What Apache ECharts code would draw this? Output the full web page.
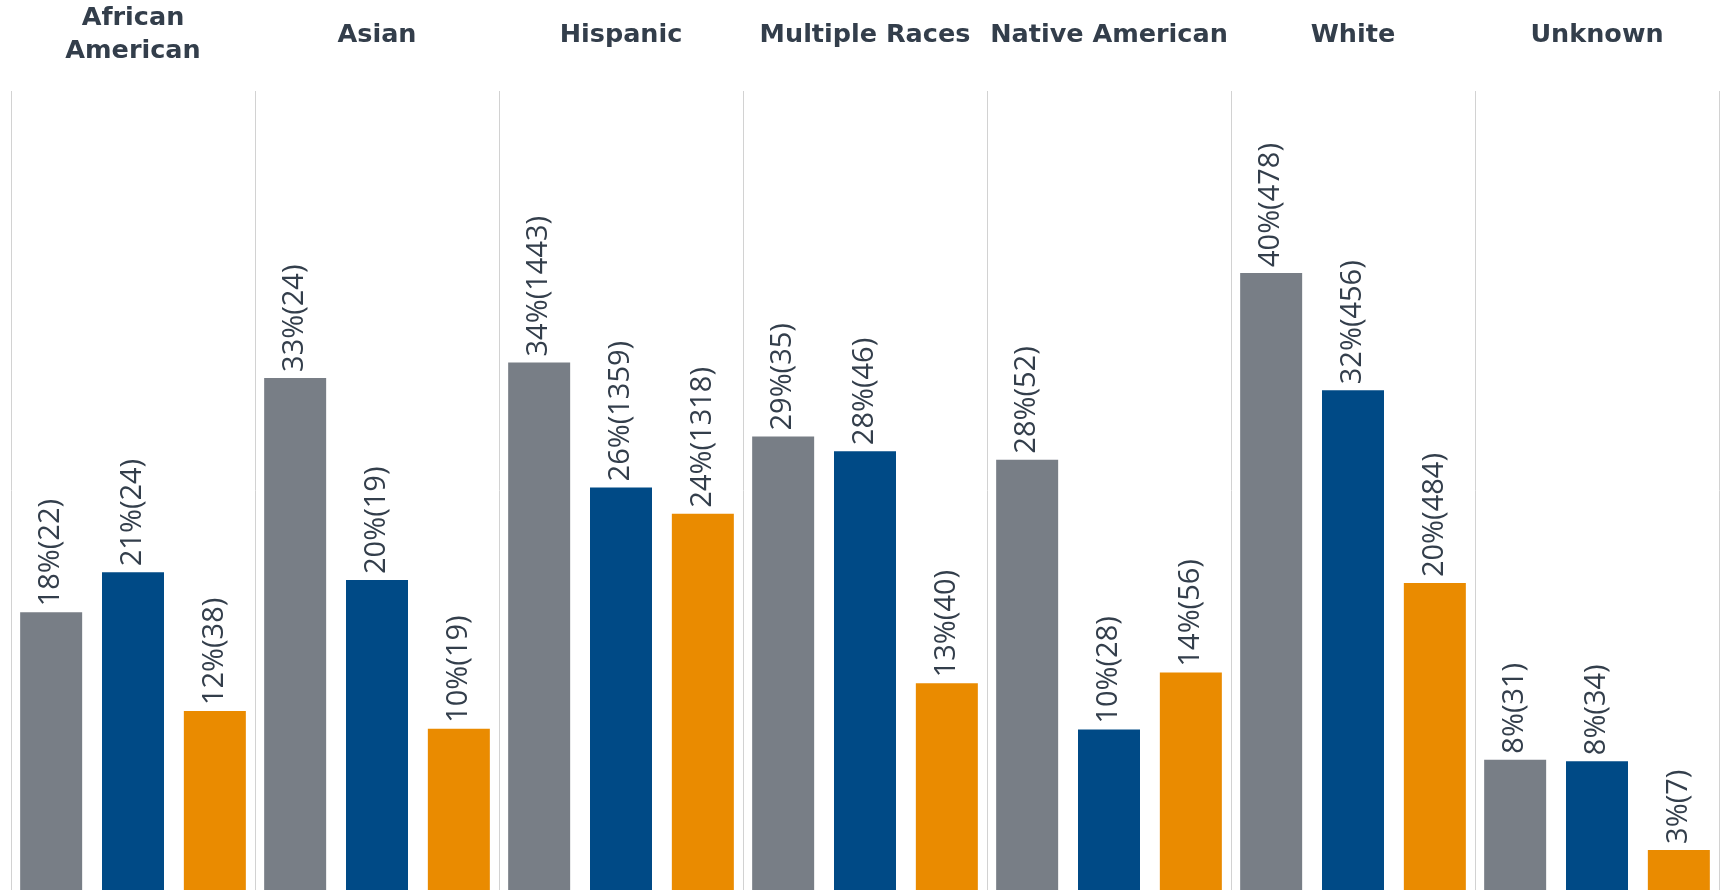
<!DOCTYPE html>
<html>
<head>
<meta charset="utf-8">
<script src="https://cdn.jsdelivr.net/npm/echarts@6/dist/echarts.min.js"></script>
<style>
    html, body {margin: 0; padding: 0; background: #fff;}
    #chart {width: 1727px; height: 893px;}
</style>
</head>
<body>
<div id="chart"></div>
<script>
// race groups (one panel each)
var races = ['African\nAmerican', 'Asian', 'Hispanic', 'Multiple Races', 'Native American', 'White', 'Unknown'];

// bar heights in percent
var grayPct = [18.0, 33.2, 34.2, 29.4, 27.9, 40.0, 8.45];
var bluePct = [20.6, 20.1, 26.1, 28.45, 10.4, 32.4, 8.35];
var orangePct = [11.6, 10.45, 24.4, 13.4, 14.1, 19.9, 2.6];

// counts shown in brackets
var grayCount = [22, 24, 1443, 35, 52, 478, 31];
var blueCount = [24, 19, 1359, 46, 28, 456, 34];
var orangeCount = [38, 19, 1318, 40, 56, 484, 7];

var textColor = '#333e4b';

/**build one bar series with its rotated label*/
function makeSeries(name, pct, counts, color) {
    return {
        name: name,
        type: 'bar',
        data: pct,
        barWidth: 62,
        barGap: '32%',
        itemStyle: {color: color},
        label: {
            show: true,
            position: 'top',
            rotate: 90,
            align: 'left',
            verticalAlign: 'middle',
            distance: 6,
            fontFamily: 'Open Sans',
            fontSize: 29,
            color: textColor,
            formatter: function (p) {
                return Math.round(p.value) + '%(' + counts[p.dataIndex] + ')';
            }
        }
    };
}

var chart = echarts.init(document.getElementById('chart'));
chart.setOption({
    animation: false,
    grid: {left: 11, right: 8, top: 91, bottom: 3},
    xAxis: {
        type: 'category',
        position: 'top',
        data: races,
        axisLine: {show: false},
        axisTick: {show: false},
        axisLabel: {
            interval: 0,
            margin: 56,
            verticalAlign: 'middle',
            lineHeight: 33,
            fontFamily: 'DejaVu Sans',
            fontWeight: 'bold',
            fontSize: 25.5,
            color: textColor
        },
        splitLine: {show: true, interval: 0, lineStyle: {color: '#d2d2d2', width: 1}}
    },
    yAxis: {
        type: 'value',
        min: 0,
        max: 51.8,
        show: false,
        splitLine: {show: false}
    },
    series: [
        makeSeries('gray', grayPct, grayCount, '#787e86'),
        makeSeries('blue', bluePct, blueCount, '#004a86'),
        makeSeries('orange', orangePct, orangeCount, '#ea8b00')
    ]
});
</script>
</body>
</html>
